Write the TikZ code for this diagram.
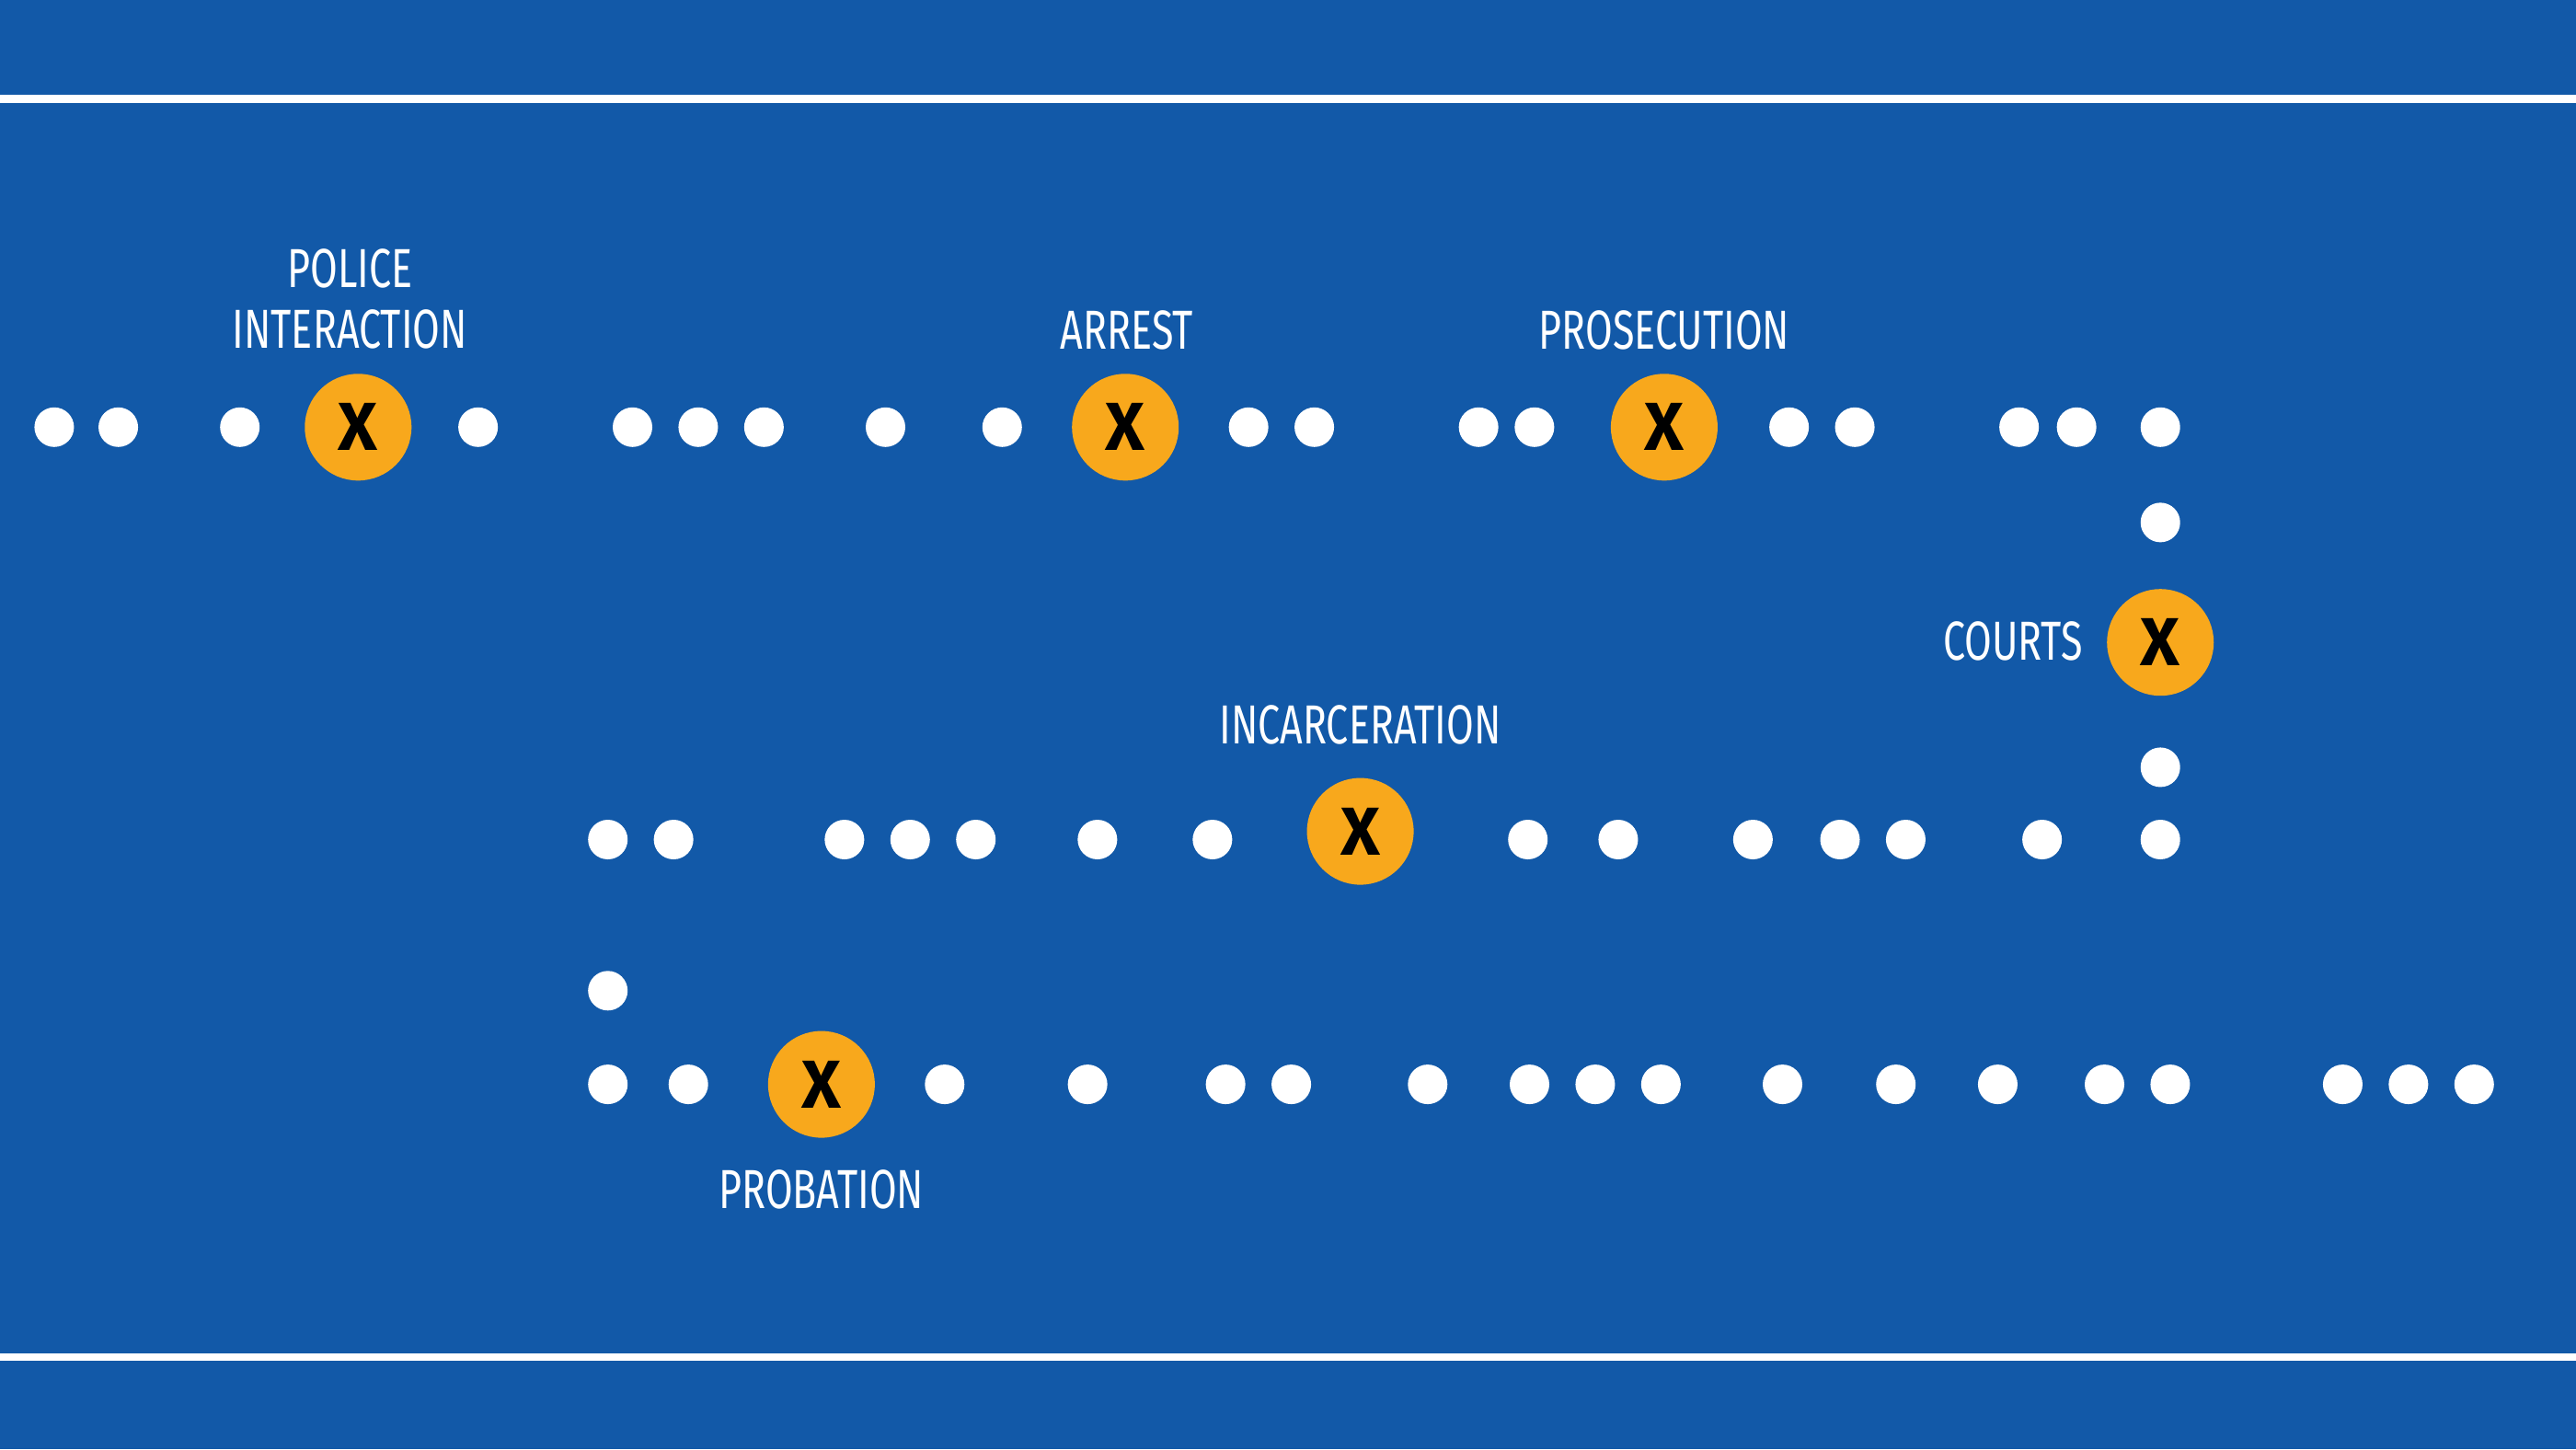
\documentclass[tikz,border=0pt]{standalone}
\usepackage{fontspec}
\setmainfont{Fira Sans}[FakeStretch=0.72]
\newfontfamily\markfont{Fira Sans}
\definecolor{bgblue}{HTML}{1259A8}
\definecolor{stopgold}{HTML}{F8A81C}
\tikzset{
  pathdot/.style={circle,fill=white,inner sep=0pt,minimum size=0.43cm},
  stopmark/.style={circle,fill=stopgold,inner sep=0pt,minimum size=1.16cm,
    font=\markfont\bfseries\fontsize{21}{21}\selectfont,text=black},
  stagelabel/.style={text=white,font=\fontsize{17}{19}\selectfont,align=center,inner sep=0pt}
}
\begin{document}
\begin{tikzpicture}[x=0.017857cm,y=-0.017857cm]
  \fill[bgblue] (0,0) rectangle (1568,882);
  \useasboundingbox (0,0) rectangle (1568,882);
  \fill[white] (0,57.5) rectangle (1568,62.5);
  \fill[white] (0,823.5) rectangle (1568,828.5);

  % top row
  \foreach \x [count=\i] in {33,72,146,291,385,425,465,539,610,760,800,900,934,1089,1129,1229,1264,1315}
    \node[pathdot] (top\i) at (\x,260) {};
  % courts column
  \foreach \y [count=\i] in {318,467}
    \node[pathdot] (col\i) at (1315,\y) {};
  % middle row
  \foreach \x [count=\i] in {370,410,514,554,594,668,738,930,985,1067,1120,1160,1243,1315}
    \node[pathdot] (mid\i) at (\x,511) {};
  \node[pathdot] (turn) at (370,603) {};
  % bottom row
  \foreach \x [count=\i] in {370,419,575,662,746,786,869,931,971,1011,1085,1154,1216,1281,1321,1426,1466,1506}
    \node[pathdot] (bot\i) at (\x,660) {};

  % stops
  \node[stopmark] (police) at (218,260) {X};
  \node[stopmark] (arrest) at (685,260) {X};
  \node[stopmark] (prosecution) at (1013,260) {X};
  \node[stopmark] (courts) at (1315,391) {X};
  \node[stopmark] (incarceration) at (828,506) {X};
  \node[stopmark] (probation) at (500,660) {X};

  \node[stagelabel] (policelbl) at (213,182) {POLICE\\INTERACTION};
  \node[stagelabel] (arrestlbl) at (686,201) {ARREST};
  \node[stagelabel] (prosecutionlbl) at (1013,201) {PROSECUTION};
  \node[stagelabel,anchor=east] (courtslbl) at (1268,390) {COURTS};
  \node[stagelabel] (incarcerationlbl) at (828,441) {INCARCERATION};
  \node[stagelabel] (probationlbl) at (500,724) {PROBATION};
\end{tikzpicture}
\end{document}
